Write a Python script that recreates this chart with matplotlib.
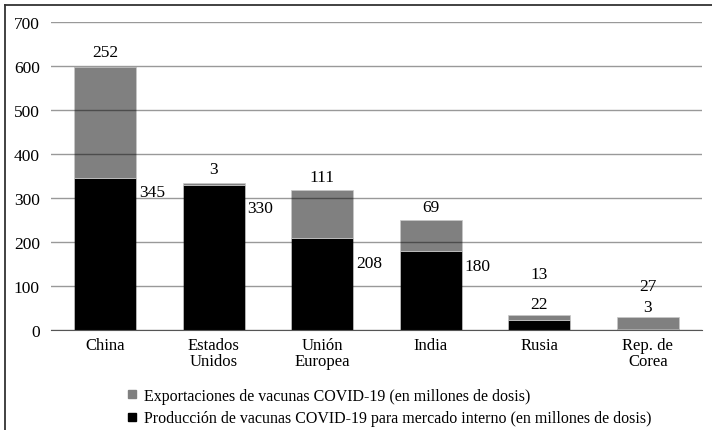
import matplotlib
matplotlib.use('Agg')
from matplotlib import pyplot as plt
from matplotlib.lines import Line2D
import numpy as np

plt.rcParams['font.family'] = ['Liberation Serif', 'DejaVu Serif']
plt.rcParams['font.size'] = 12

# datos (millones de dosis)
paises = ['China', 'Estados\nUnidos', 'Unión\nEuropea', 'India', 'Rusia', 'Rep. de\nCorea']
produccion = [345, 330, 208, 180, 22, 3]
exportaciones = [252, 3, 111, 69, 13, 27]

# posición vertical de las etiquetas (en unidades del eje)
y_etiq_prod = [314, 277, 152, 145, 59, 52]
y_etiq_exp = [632, 366, 348, 280, 127, 100]
lado_prod = ['right', 'right', 'right', 'right', 'center', 'center']

fig = plt.figure(figsize=(7.12, 4.31), dpi=100)
ax = fig.add_axes([51 / 712, 1 - 331 / 431, 651 / 712, 308 / 431])

x = np.arange(len(paises))
ancho = 0.57
ax.bar(x, produccion, ancho, color='black', edgecolor='#c8c8c8', linewidth=0.5,
       label='Producción de vacunas COVID-19 para mercado interno (en millones de dosis)')
ax.bar(x, exportaciones, ancho, bottom=produccion, color='#808080', edgecolor='#c8c8c8',
       linewidth=0.5, label='Exportaciones de vacunas COVID-19 (en millones de dosis)')

# etiquetas de valores
tam_num = 12.5
for i in range(len(paises)):
    ax.text(x[i], y_etiq_exp[i], str(exportaciones[i]), ha='center', va='center', fontsize=tam_num)
    if lado_prod[i] == 'right':
        ax.annotate(str(produccion[i]), (x[i] + ancho / 2, y_etiq_prod[i]),
                    xytext=(2, 0), textcoords='offset points', ha='left', va='center',
                    fontsize=tam_num)
    else:
        ax.text(x[i], y_etiq_prod[i], str(produccion[i]), ha='center', va='center',
                fontsize=tam_num)

ax.set_xlim(-0.5, len(paises) - 0.5)
ax.set_ylim(0, 700)
ax.set_yticks(range(0, 701, 100))
ax.set_xticks(x)
ax.set_xticklabels(paises, linespacing=1.0)
ax.tick_params(axis='both', length=0)
ax.tick_params(axis='y', pad=8, labelsize=tam_num)
ax.tick_params(axis='x', pad=5)

# grilla por encima de las barras
ax.set_axisbelow(False)
ax.grid(True, axis='y', color='black', alpha=0.4, linewidth=1)
for s in ['top', 'right', 'left']:
    ax.spines[s].set_visible(False)
ax.spines['bottom'].set_color('#555555')
ax.spines['bottom'].set_zorder(3)

# leyenda
h1 = Line2D([], [], marker='s', color='none', markerfacecolor='#808080',
            markeredgecolor='#808080', markersize=6)
h2 = Line2D([], [], marker='s', color='none', markerfacecolor='black',
            markeredgecolor='black', markersize=6)
fig.legend([h1, h2],
           ['Exportaciones de vacunas COVID-19 (en millones de dosis)',
            'Producción de vacunas COVID-19 para mercado interno (en millones de dosis)'],
           loc='upper left', bbox_to_anchor=(126 / 712, 1 - 389 / 431), frameon=False,
           handlelength=0.7, handletextpad=0.4, labelspacing=0.4, borderaxespad=0,
           borderpad=0, fontsize=11.5)

# borde del gráfico
fig.add_artist(Line2D([5 / 712, 1], [1 - 5.5 / 431, 1 - 5.5 / 431], color='#333333', lw=1.3))
fig.add_artist(Line2D([5 / 712, 5 / 712], [0, 1 - 5.5 / 431], color='#333333', lw=1.3))

plt.savefig('out.png', dpi=100)
